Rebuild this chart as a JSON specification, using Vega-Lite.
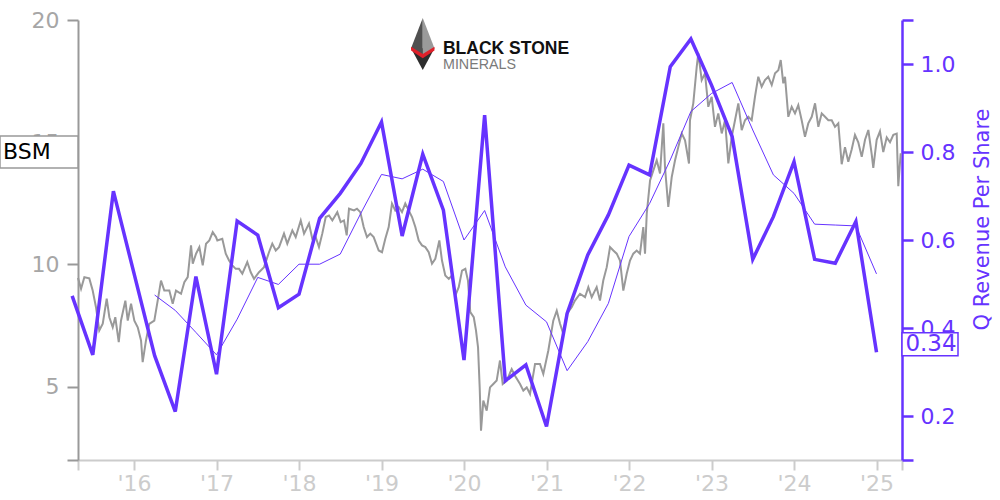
{
  "$schema": "https://vega.github.io/schema/vega-lite/v6.json",
  "width": 824,
  "height": 440,
  "autosize": {"type": "none"},
  "padding": {"left": 78, "top": 20, "right": 98, "bottom": 40},
  "background": "white",
  "config": {
    "view": {"stroke": null},
    "font": "DejaVu Sans",
    "axis": {"labelFont": "DejaVu Sans", "titleFont": "DejaVu Sans", "grid": false}
  },
  "datasets": {
    "price": [
      {"t":2015.321,"price":9.45},{"t":2015.358,"price":9.0},{"t":2015.398,"price":9.48},{"t":2015.458,"price":9.43},{"t":2015.499,"price":8.93},{"t":2015.539,"price":8.25},{"t":2015.579,"price":7.3},{"t":2015.621,"price":7.58},{"t":2015.669,"price":8.6},{"t":2015.701,"price":7.84},{"t":2015.742,"price":7.43},{"t":2015.773,"price":7.84},{"t":2015.815,"price":6.82},{"t":2015.842,"price":7.7},{"t":2015.895,"price":8.52},{"t":2015.924,"price":7.7},{"t":2015.964,"price":8.39},{"t":2016.004,"price":7.7},{"t":2016.045,"price":7.43},{"t":2016.085,"price":6.89},{"t":2016.105,"price":6.0},{"t":2016.145,"price":6.89},{"t":2016.185,"price":7.57},{"t":2016.246,"price":7.7},{"t":2016.287,"price":8.52},{"t":2016.327,"price":9.34},{"t":2016.367,"price":8.93},{"t":2016.428,"price":8.93},{"t":2016.469,"price":8.39},{"t":2016.509,"price":8.93},{"t":2016.57,"price":8.8},{"t":2016.61,"price":9.27},{"t":2016.651,"price":9.48},{"t":2016.691,"price":10.78},{"t":2016.712,"price":10.03},{"t":2016.752,"price":10.44},{"t":2016.792,"price":10.71},{"t":2016.833,"price":9.96},{"t":2016.873,"price":10.85},{"t":2016.913,"price":10.98},{"t":2016.954,"price":11.32},{"t":2016.994,"price":11.12},
      {"t":2017.01,"price":10.98},{"t":2017.07,"price":11.05},{"t":2017.112,"price":10.44},{"t":2017.152,"price":10.16},{"t":2017.192,"price":9.96},{"t":2017.233,"price":9.82},{"t":2017.273,"price":9.82},{"t":2017.313,"price":9.62},{"t":2017.373,"price":10.1},{"t":2017.415,"price":9.68},{"t":2017.455,"price":9.41},{"t":2017.515,"price":9.68},{"t":2017.576,"price":9.89},{"t":2017.636,"price":10.5},{"t":2017.676,"price":10.85},{"t":2017.718,"price":10.57},{"t":2017.758,"price":10.71},{"t":2017.818,"price":11.26},{"t":2017.858,"price":10.85},{"t":2017.919,"price":11.39},{"t":2017.96,"price":11.12},
      {"t":2018.021,"price":11.8},{"t":2018.061,"price":11.26},{"t":2018.121,"price":11.67},{"t":2018.161,"price":11.05},{"t":2018.202,"price":11.12},{"t":2018.242,"price":10.71},{"t":2018.282,"price":11.26},{"t":2018.324,"price":11.94},{"t":2018.364,"price":12.0},{"t":2018.404,"price":11.8},{"t":2018.464,"price":12.14},{"t":2018.505,"price":11.73},{"t":2018.545,"price":11.8},{"t":2018.578,"price":11.19},{"t":2018.606,"price":12.28},{"t":2018.667,"price":12.21},{"t":2018.703,"price":12.28},{"t":2018.743,"price":12.14},{"t":2018.784,"price":11.53},{"t":2018.824,"price":11.12},{"t":2018.864,"price":11.26},{"t":2018.905,"price":11.12},{"t":2018.966,"price":10.57},
      {"t":2019.006,"price":10.5},{"t":2019.046,"price":11.05},{"t":2019.087,"price":11.53},{"t":2019.127,"price":12.49},{"t":2019.167,"price":12.21},{"t":2019.208,"price":12.35},{"t":2019.248,"price":12.14},{"t":2019.288,"price":12.49},{"t":2019.33,"price":12.21},{"t":2019.37,"price":11.94},{"t":2019.41,"price":11.53},{"t":2019.451,"price":10.98},{"t":2019.491,"price":10.78},{"t":2019.531,"price":10.71},{"t":2019.572,"price":10.5},{"t":2019.612,"price":10.03},{"t":2019.652,"price":10.23},{"t":2019.701,"price":10.98},{"t":2019.733,"price":10.16},{"t":2019.773,"price":9.55},{"t":2019.815,"price":9.41},{"t":2019.855,"price":9.55},{"t":2019.895,"price":8.73},{"t":2019.936,"price":9.07},{"t":2019.976,"price":9.75},
      {"t":2020.016,"price":9.82},{"t":2020.048,"price":9.34},{"t":2020.076,"price":8.05},{"t":2020.118,"price":7.84},{"t":2020.145,"price":7.3},{"t":2020.17,"price":6.61},{"t":2020.19,"price":4.97},{"t":2020.206,"price":3.2},{"t":2020.234,"price":4.43},{"t":2020.275,"price":4.02},{"t":2020.315,"price":4.97},{"t":2020.355,"price":5.11},{"t":2020.396,"price":5.25},{"t":2020.436,"price":6.07},{"t":2020.469,"price":5.11},{"t":2020.518,"price":5.25},{"t":2020.578,"price":5.72},{"t":2020.618,"price":5.45},{"t":2020.679,"price":5.11},{"t":2020.719,"price":4.84},{"t":2020.76,"price":4.97},{"t":2020.8,"price":4.7},{"t":2020.861,"price":5.93},{"t":2020.921,"price":5.93},{"t":2020.961,"price":5.52},
      {"t":2021.022,"price":6.48},{"t":2021.082,"price":7.7},{"t":2021.124,"price":8.11},{"t":2021.164,"price":7.57},{"t":2021.204,"price":7.16},{"t":2021.245,"price":7.98},{"t":2021.305,"price":8.25},{"t":2021.345,"price":8.52},{"t":2021.406,"price":8.8},{"t":2021.467,"price":8.66},{"t":2021.507,"price":9.07},{"t":2021.548,"price":8.66},{"t":2021.608,"price":9.07},{"t":2021.648,"price":8.52},{"t":2021.688,"price":9.34},{"t":2021.73,"price":9.89},{"t":2021.77,"price":10.71},{"t":2021.81,"price":10.57},{"t":2021.851,"price":10.44},{"t":2021.891,"price":10.16},{"t":2021.931,"price":8.93},{"t":2021.972,"price":9.62},
      {"t":2022.012,"price":10.16},{"t":2022.052,"price":10.44},{"t":2022.093,"price":10.57},{"t":2022.133,"price":10.44},{"t":2022.173,"price":11.53},{"t":2022.194,"price":10.44},{"t":2022.215,"price":12.08},{"t":2022.255,"price":13.44},{"t":2022.295,"price":13.85},{"t":2022.336,"price":14.26},{"t":2022.376,"price":13.72},{"t":2022.416,"price":15.77},{"t":2022.436,"price":13.99},{"t":2022.476,"price":12.35},{"t":2022.518,"price":13.58},{"t":2022.558,"price":14.26},{"t":2022.598,"price":14.81},{"t":2022.639,"price":15.36},{"t":2022.679,"price":15.08},{"t":2022.727,"price":14.13},{"t":2022.739,"price":15.9},{"t":2022.779,"price":16.59},{"t":2022.821,"price":18.09},{"t":2022.84,"price":18.63},{"t":2022.881,"price":17.54},{"t":2022.921,"price":17.82},{"t":2022.961,"price":16.45},
      {"t":2023.002,"price":16.86},{"t":2023.042,"price":15.63},{"t":2023.082,"price":16.18},{"t":2023.124,"price":15.36},{"t":2023.164,"price":15.9},{"t":2023.204,"price":14.13},{"t":2023.245,"price":15.22},{"t":2023.285,"price":15.9},{"t":2023.325,"price":16.59},{"t":2023.366,"price":15.49},{"t":2023.406,"price":15.9},{"t":2023.446,"price":16.04},{"t":2023.487,"price":15.9},{"t":2023.527,"price":16.86},{"t":2023.567,"price":17.68},{"t":2023.608,"price":17.27},{"t":2023.648,"price":17.54},{"t":2023.688,"price":17.68},{"t":2023.73,"price":17.34},{"t":2023.77,"price":17.82},{"t":2023.81,"price":17.95},{"t":2023.839,"price":18.36},{"t":2023.87,"price":17.41},{"t":2023.891,"price":17.68},{"t":2023.931,"price":16.04},{"t":2023.972,"price":16.45},
      {"t":2024.012,"price":16.18},{"t":2024.052,"price":16.52},{"t":2024.093,"price":15.9},{"t":2024.133,"price":15.22},{"t":2024.173,"price":15.77},{"t":2024.215,"price":16.04},{"t":2024.255,"price":16.59},{"t":2024.295,"price":15.63},{"t":2024.336,"price":16.18},{"t":2024.376,"price":16.04},{"t":2024.416,"price":15.9},{"t":2024.457,"price":15.9},{"t":2024.497,"price":15.63},{"t":2024.537,"price":15.77},{"t":2024.578,"price":14.1},{"t":2024.618,"price":14.8},{"t":2024.658,"price":14.2},{"t":2024.699,"price":14.7},{"t":2024.739,"price":15.3},{"t":2024.779,"price":15.0},{"t":2024.821,"price":14.4},{"t":2024.861,"price":15.1},{"t":2024.901,"price":15.5},{"t":2024.942,"price":14.5},{"t":2024.961,"price":13.95},
      {"t":2025.002,"price":15.1},{"t":2025.042,"price":15.45},{"t":2025.082,"price":14.6},{"t":2025.124,"price":15.2},{"t":2025.164,"price":15.0},{"t":2025.204,"price":15.3},{"t":2025.245,"price":15.35},{"t":2025.264,"price":13.2},{"t":2025.293,"price":14.55}
    ],
    "q": [
      {"t":2015.25,"rev":0.473},{"t":2015.5,"rev":0.339},{"t":2015.75,"rev":0.711},{"t":2016.0,"rev":0.524},{"t":2016.25,"rev":0.337},{"t":2016.5,"rev":0.21},{"t":2016.75,"rev":0.517},{"t":2017.0,"rev":0.295},{"t":2017.25,"rev":0.643},{"t":2017.5,"rev":0.611},{"t":2017.75,"rev":0.446},{"t":2018.0,"rev":0.477},{"t":2018.25,"rev":0.649},{"t":2018.5,"rev":0.706},{"t":2018.75,"rev":0.774},{"t":2019.0,"rev":0.868},{"t":2019.25,"rev":0.609},{"t":2019.5,"rev":0.795},{"t":2019.75,"rev":0.668},{"t":2020.0,"rev":0.327},{"t":2020.25,"rev":0.884},{"t":2020.5,"rev":0.28},{"t":2020.75,"rev":0.316},{"t":2021.0,"rev":0.176},{"t":2021.25,"rev":0.433},{"t":2021.5,"rev":0.566},{"t":2021.75,"rev":0.657},{"t":2022.0,"rev":0.77},{"t":2022.25,"rev":0.748},{"t":2022.5,"rev":0.994},{"t":2022.75,"rev":1.057},{"t":2023.0,"rev":0.952},{"t":2023.25,"rev":0.835},{"t":2023.5,"rev":0.556},{"t":2023.75,"rev":0.653},{"t":2024.0,"rev":0.778},{"t":2024.25,"rev":0.556},{"t":2024.5,"rev":0.547},{"t":2024.75,"rev":0.642},{"t":2025.0,"rev":0.345}
    ],
    "ttm": [
      {"t":2016.25,"rev":0.475},{"t":2016.5,"rev":0.44},{"t":2016.75,"rev":0.39},{"t":2017.0,"rev":0.339},{"t":2017.25,"rev":0.42},{"t":2017.5,"rev":0.515},{"t":2017.75,"rev":0.499},{"t":2018.0,"rev":0.545},{"t":2018.25,"rev":0.545},{"t":2018.5,"rev":0.568},{"t":2018.75,"rev":0.661},{"t":2019.0,"rev":0.749},{"t":2019.25,"rev":0.739},{"t":2019.5,"rev":0.761},{"t":2019.75,"rev":0.733},{"t":2020.0,"rev":0.6},{"t":2020.25,"rev":0.667},{"t":2020.5,"rev":0.539},{"t":2020.75,"rev":0.452},{"t":2021.0,"rev":0.414},{"t":2021.25,"rev":0.303},{"t":2021.5,"rev":0.369},{"t":2021.75,"rev":0.456},{"t":2022.0,"rev":0.608},{"t":2022.25,"rev":0.683},{"t":2022.5,"rev":0.782},{"t":2022.75,"rev":0.892},{"t":2023.0,"rev":0.933},{"t":2023.25,"rev":0.958},{"t":2023.5,"rev":0.85},{"t":2023.75,"rev":0.748},{"t":2024.0,"rev":0.706},{"t":2024.25,"rev":0.636},{"t":2024.5,"rev":0.634},{"t":2024.75,"rev":0.632},{"t":2025.0,"rev":0.523}
    ],
    "leftLabel": [{"t":2015.321,"price":14.6,"label":"BSM"}],
    "rightLabel": [{"t":2025.309,"rev":0.345,"label":"0.34"}],
    "logoIcon": [{"t":2019.5,"price":19.016}],
    "logoText": [
      {"t":2019.745,"price":18.6,"label":"BLACK STONE","kind":"main"},
      {"t":2019.745,"price":18.0,"label":"MINERALS","kind":"sub"}
    ]
  },
  "encoding": {
    "x": {
      "field": "t",
      "type": "quantitative",
      "scale": {"domain": [2015.321, 2025.309], "nice": false, "zero": false},
      "axis": {
        "values": [2015.321, 2016, 2017, 2018, 2019, 2020, 2021, 2022, 2023, 2024, 2025, 2025.309],
        "labelExpr": "datum.value % 1 == 0 ? \"'\" + (datum.value % 100) : ''",
        "title": null,
        "grid": false,
        "domainColor": "#cccccc",
        "domainWidth": 2,
        "tickColor": "#cccccc",
        "tickWidth": 2,
        "tickSize": 10,
        "labelColor": "#cccccc",
        "labelFontSize": 22,
        "labelPadding": 3,
        "labelFlush": false,
        "labelOverlap": false
      }
    }
  },
  "layer": [
    {
      "encoding": {
        "y": {
          "field": "price",
          "type": "quantitative",
          "scale": {"domain": [2, 20], "nice": false, "zero": false},
          "axis": {
            "values": [2, 5, 10, 15, 20],
            "labelExpr": "datum.value == 2 ? '' : datum.label",
            "title": null,
            "grid": false,
            "domainColor": "#999999",
            "domainWidth": 2,
            "tickColor": "#999999",
            "tickWidth": 2,
            "tickSize": 11,
            "labelColor": "#a6a6a6",
            "labelFontSize": 22,
            "labelPadding": 8
          }
        }
      },
      "layer": [
        {"data": {"name": "price"}, "mark": {"type": "line", "color": "#999999", "strokeWidth": 2}},
        {"data": {"name": "leftLabel"}, "mark": {"type": "point", "shape": "M-1,-0.41H1V0.41H-1Z", "size": 6084, "filled": true, "fill": "white", "stroke": "#999999", "strokeWidth": 1.5, "opacity": 1, "xOffset": -39}},
        {"data": {"name": "leftLabel"}, "mark": {"type": "text", "align": "left", "baseline": "middle", "dx": -75, "fontSize": 22, "color": "black"}, "encoding": {"text": {"field": "label"}}},
        {"data": {"name": "logoIcon"}, "mark": {"type": "point", "shape": "M-0.45,0.165L0,1L0.45,0.165Z", "size": 2704, "filled": true, "fill": "#2d2d2d", "opacity": 1, "strokeWidth": 0}},
        {"data": {"name": "logoIcon"}, "mark": {"type": "point", "shape": "M0,-1L-0.45,0.165L0,0.45Z", "size": 2704, "filled": true, "fill": "#505050", "opacity": 1, "strokeWidth": 0}},
        {"data": {"name": "logoIcon"}, "mark": {"type": "point", "shape": "M0,-1L0.45,0.165L0,0.45Z", "size": 2704, "filled": true, "fill": "#9a9a9a", "opacity": 1, "strokeWidth": 0}},
        {"data": {"name": "logoIcon"}, "mark": {"type": "point", "shape": "M-0.45,0.1L0,0.38L0.45,0.1L0.45,0.25L0,0.55L-0.45,0.25Z", "size": 2704, "filled": true, "fill": "#e0202a", "opacity": 1, "strokeWidth": 0}},
        {"data": {"name": "logoText"}, "transform": [{"filter": "datum.kind == 'main'"}], "mark": {"type": "text", "align": "left", "baseline": "alphabetic", "font": "Liberation Sans", "fontWeight": "bold", "fontSize": 17.5, "color": "#111111"}, "encoding": {"text": {"field": "label"}}},
        {"data": {"name": "logoText"}, "transform": [{"filter": "datum.kind == 'sub'"}], "mark": {"type": "text", "align": "left", "baseline": "alphabetic", "font": "Liberation Sans", "fontSize": 14.3, "color": "#7a7a7a"}, "encoding": {"text": {"field": "label"}}}
      ]
    },
    {
      "encoding": {
        "y": {
          "field": "rev",
          "type": "quantitative",
          "scale": {"domain": [0.1, 1.1], "nice": false, "zero": false},
          "axis": {
            "orient": "right",
            "values": [0.1, 0.2, 0.4, 0.6, 0.8, 1.0, 1.1],
            "labelExpr": "datum.value < 0.15 || datum.value > 1.05 ? '' : format(datum.value, '.1f')",
            "title": "Q Revenue Per Share",
            "titleColor": "#6633ff",
            "titleFontSize": 21,
            "titleFontWeight": "normal",
            "titleAngle": 270,
            "titleAlign": "center",
            "titleBaseline": "middle",
            "titleX": 80,
            "titleY": 199,
            "grid": false,
            "domainColor": "#6633ff",
            "domainWidth": 2.5,
            "tickColor": "#6633ff",
            "tickWidth": 2.5,
            "tickSize": 11,
            "labelColor": "#6633ff",
            "labelFontSize": 22,
            "labelPadding": 7
          }
        }
      },
      "layer": [
        {"data": {"name": "ttm"}, "mark": {"type": "line", "color": "#6633ff", "strokeWidth": 1}},
        {"data": {"name": "q"}, "mark": {"type": "line", "color": "#6633ff", "strokeWidth": 3.5}},
        {"data": {"name": "rightLabel"}, "mark": {"type": "point", "shape": "M-1,-0.41H1V0.41H-1Z", "size": 3136, "filled": true, "fill": "white", "stroke": "#6633ff", "strokeWidth": 1.5, "opacity": 1, "xOffset": 28, "yOffset": -8}},
        {"data": {"name": "rightLabel"}, "mark": {"type": "text", "align": "center", "baseline": "middle", "dx": 29, "dy": -8, "fontSize": 23, "color": "#6633ff"}, "encoding": {"text": {"field": "label"}}}
      ]
    }
  ],
  "resolve": {"scale": {"y": "independent"}}
}
